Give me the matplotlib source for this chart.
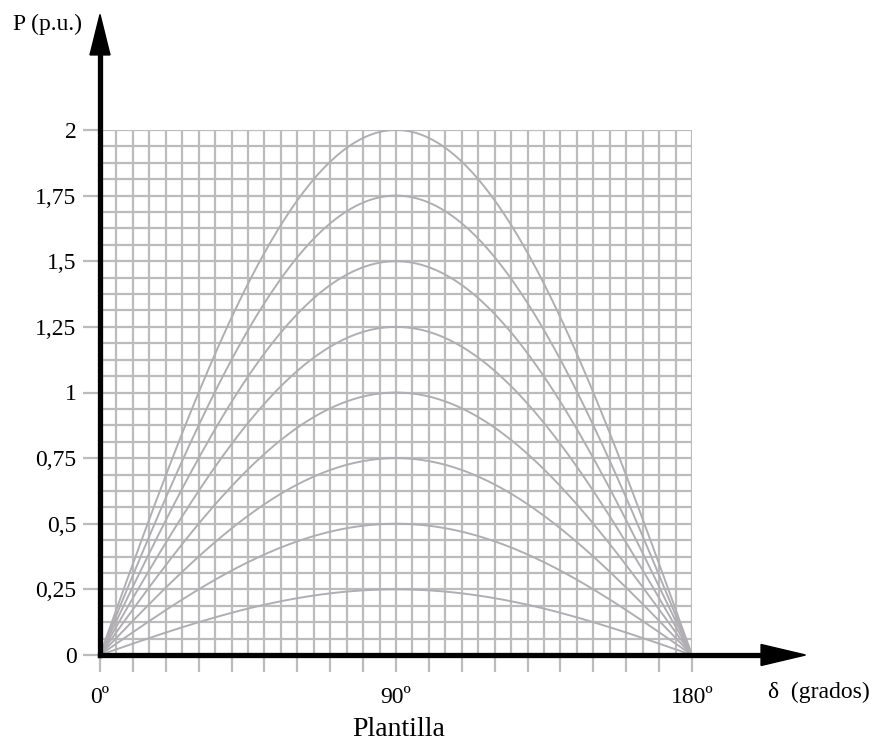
import numpy as np
import matplotlib
matplotlib.use("Agg")
import matplotlib.pyplot as plt
from matplotlib.patches import Polygon

# ---- data ----
amplitudes = [0.25, 0.5, 0.75, 1.0, 1.25, 1.5, 1.75, 2.0]   # Pmax of each curve (p.u.)
delta_deg = np.arange(0, 181, 1)                            # load angle (degrees)
y_ticks = [0, 0.25, 0.5, 0.75, 1, 1.25, 1.5, 1.75, 2]
y_tick_labels = ["0", "0,25", "0,5", "0,75", "1", "1,25", "1,5", "1,75", "2"]
x_ticks = list(range(0, 181, 10))
x_tick_labels = {0: "0º", 90: "90º", 180: "180º"}

plt.rcParams['font.family'] = ['Liberation Serif', 'DejaVu Serif']

fig = plt.figure(figsize=(8.75, 7.44), dpi=100)
ax = fig.add_axes([100/875, 89/744, 592/875, 525/744])
ax.set_xlim(0, 180)
ax.set_ylim(0, 2)
for s in ax.spines.values():
    s.set_visible(False)

grid_c = '#bcbcbc'
curve_c = '#b0aeb2'

# grid
ax.set_xticks(x_ticks)
ax.set_xticklabels([x_tick_labels.get(t, "") for t in x_ticks])
ax.set_xticks(np.arange(0, 181, 5), minor=True)
ax.set_yticks(y_ticks)
ax.set_yticklabels(y_tick_labels)
ax.set_yticks(np.arange(0, 2.0001, 0.0625), minor=True)
ax.grid(True, which='both', color=grid_c, linewidth=1.6)
ax.set_axisbelow(True)
ax.tick_params(which='major', length=12, width=1.6, color=grid_c,
               labelsize=17, labelcolor='black')
ax.tick_params(axis='x', which='major', pad=11)
ax.tick_params(axis='y', which='major', pad=5)
ax.tick_params(which='minor', length=0)

# curves
for a in amplitudes:
    ax.plot(delta_deg, a * np.sin(np.radians(delta_deg)), color=curve_c,
            linewidth=1.4, zorder=2)

# axis lines + arrows
px_x = 592 / 180.0   # pixels per degree
px_y = 525 / 2.0     # pixels per p.u.
ax.plot([0, 202], [0, 0], color='black', linewidth=3.8, clip_on=False,
        solid_capstyle='projecting', zorder=5)
ax.plot([0, 0], [0, 2.29], color='black', linewidth=3.8, clip_on=False,
        solid_capstyle='projecting', zorder=5)
hx = 10.5 / px_y
ax.add_patch(Polygon([[201, hx], [214.5, 0], [201, -hx]], closed=True,
                     color='black', clip_on=False, zorder=6))
wy = 10 / px_x
ax.add_patch(Polygon([[-wy, 2.286], [0, 2.44], [wy, 2.286]], closed=True,
                     color='black', clip_on=False, zorder=6))

fig.text(82/875, 1 - 24/744, "P (p.u.)", ha='right', va='center', fontsize=17)
fig.text(768/875, 1 - 692/744, "δ  (grados)", ha='left', va='center', fontsize=17)
fig.text(399/875, 1 - 729/744, "Plantilla", ha='center', va='center', fontsize=20)

fig.savefig("out.png", dpi=100)
